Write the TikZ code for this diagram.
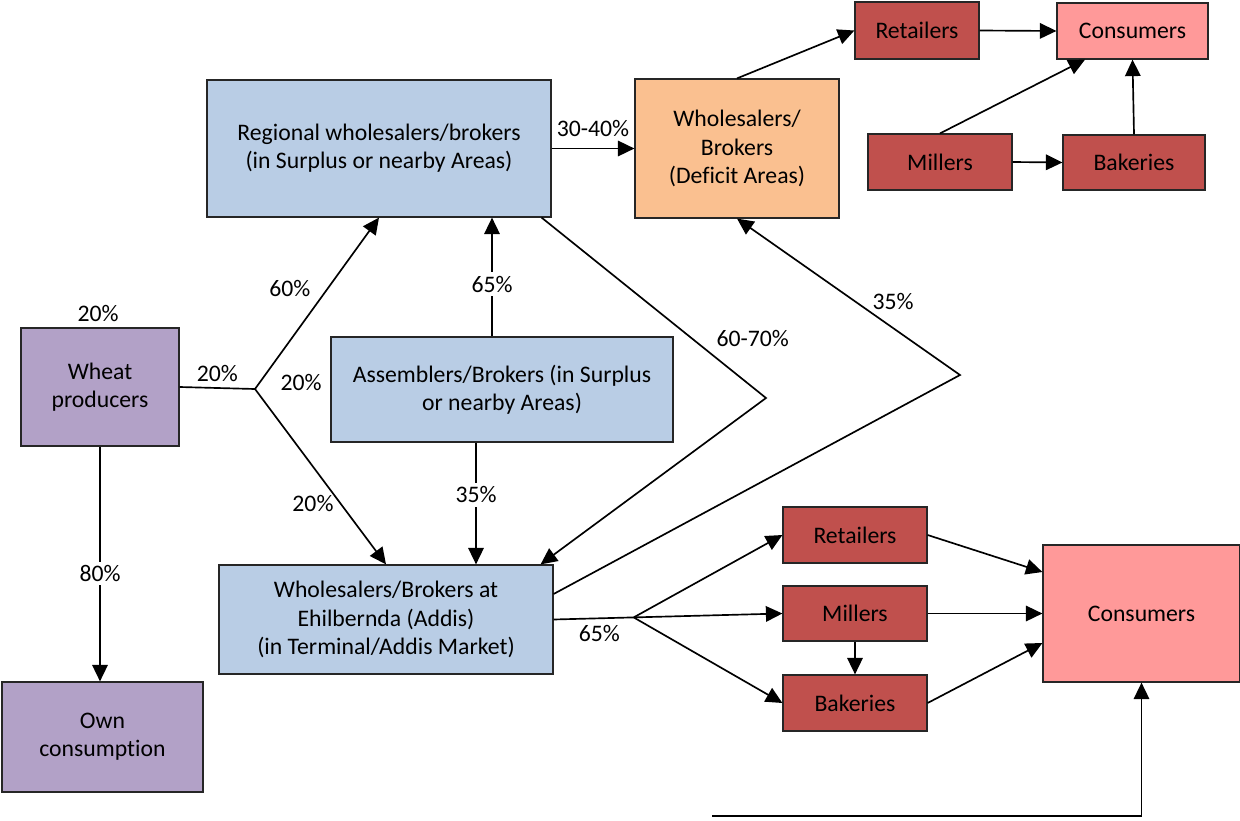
\documentclass[tikz,border=0pt]{standalone}
\usepackage{fontspec}
\setmainfont{Carlito}[Ligatures=NoCommon]
\usetikzlibrary{arrows.meta}
\definecolor{growerfill}{HTML}{B2A1C7}
\definecolor{traderfill}{HTML}{B9CDE5}
\definecolor{deficitfill}{HTML}{FAC090}
\definecolor{retailfill}{HTML}{C0504D}
\definecolor{consumerfill}{HTML}{FF9999}
\tikzset{
  box/.style = {draw=black!85, line width=0.7pt, align=center, inner sep=2pt},
  grower/.style = {box, fill=growerfill},
  trader/.style = {box, fill=traderfill},
  deficit/.style = {box, fill=deficitfill},
  retail/.style = {box, fill=retailfill},
  consumer/.style = {box, fill=consumerfill},
  share/.style = {fill=white, inner sep=2pt}
}
\tikzset{>={Triangle[length=3.3mm,width=3.1mm]}}

\begin{document}
\begin{tikzpicture}[x=0.02cm,y=-0.02cm,line width=0.95pt,
    font=\fontsize{13.5}{16}\selectfont]
  \useasboundingbox (0,0) rectangle (1240,821);
  % producers
  \node[grower, minimum width=3.16cm, minimum height=2.36cm] (wheat) at (100,387) {Wheat\\producers};
  \node[grower, minimum width=4.02cm, minimum height=2.20cm] (own) at (102.5,737) {Own\\consumption};
  \node (topshare) at (98,314) {20\%};
  % traders
  \node[trader, minimum width=6.88cm, minimum height=2.74cm] (regional) at (379,148.5) {Regional wholesalers/brokers\\(in Surplus or nearby Areas)};
  \node[trader, minimum width=6.84cm, minimum height=2.10cm] (assem) at (502,389.5) {Assemblers/Brokers (in Surplus\\or nearby Areas)};
  \node[trader, minimum width=6.68cm, minimum height=2.18cm] (ehil) at (386,619.5) {Wholesalers/Brokers at\\Ehilbernda (Addis)\\(in Terminal/Addis Market)};
  \node[deficit, minimum width=4.08cm, minimum height=2.78cm] (deficit) at (737,148.5) {Wholesalers/\\Brokers\\(Deficit Areas)};
  % deficit area chain
  \node[retail, minimum width=2.48cm, minimum height=1.14cm] (ret1) at (917,30.5) {Retailers};
  \node[consumer, minimum width=3.02cm, minimum height=1.12cm] (cons1) at (1132.5,31) {Consumers};
  \node[retail, minimum width=2.88cm, minimum height=1.12cm] (mill1) at (940,162) {Millers};
  \node[retail, minimum width=2.84cm, minimum height=1.10cm] (bak1) at (1134,162.5) {Bakeries};
  % terminal market chain
  \node[retail, minimum width=2.88cm, minimum height=1.12cm] (ret2) at (855,535) {Retailers};
  \node[retail, minimum width=2.88cm, minimum height=1.10cm] (mill2) at (855,613.5) {Millers};
  \node[retail, minimum width=2.88cm, minimum height=1.12cm] (bak2) at (855,703) {Bakeries};
  \node[consumer, minimum width=3.94cm, minimum height=2.74cm] (cons2) at (1141.5,613.5) {Consumers};
  % turning points
  \coordinate (split) at (255,389);
  \coordinate (bend1) at (766,398);
  \coordinate (bend2) at (960,375);
  \coordinate (feed) at (712,816);
  % flows from producers
  \draw (wheat.east) -- node[above] (lsplit) {20\%} (split);
  \draw[->] (split) -- node[pos=0.5, above left] (lreg) {60\%} (regional.south);
  \draw[->] (split) -- node[pos=0.65, left] (lehil) {20\%} (ehil.north);
  \node (lassem) at (301,383) {20\%};
  \draw[->] (wheat.south) -- node[share, pos=0.54] (lown) {80\%} (wheat.south |- own.north);
  % flows from assemblers
  \draw[->] ([xshift=-0.2cm]assem.north) -- node[share, pos=0.44] (lup) {65\%} ([xshift=-0.2cm]assem.north |- regional.south);
  \draw[->] ([xshift=-0.52cm]assem.south) -- node[share, pos=0.43] (ldown) {35\%} ([xshift=-0.52cm]assem.south |- ehil.north);
  % flows from regional traders
  \draw[->] (regional.east) -- node[above=3pt] (ldef) {30-40\%} (deficit.west);
  \draw[->] ([xshift=-0.2cm]regional.south east) -- node[pos=0.75, above right] (lterm) {60-70\%} (bend1)
    -- ([xshift=-0.26cm]ehil.north east);
  % flows from terminal market
  \draw[->] ([yshift=0.51cm]ehil.east) -- (bend2)
    -- node[pos=0.3, above=0.24cm] (lback) {35\%} (deficit.south);
  \draw[->] (ehil.east) -- coordinate[pos=0.35] (fork) node[pos=0.2, below] (lfork) {65\%} (mill2.west);
  \draw[->] (fork) -- (ret2.west);
  \draw[->] (fork) -- (bak2.west);
  \draw[->] (ret2.east) -- ([yshift=0.83cm]cons2.west);
  \draw[->] (mill2.east) -- (cons2.west);
  \draw[->] (mill2.south) -- (bak2.north);
  \draw[->] (bak2.east) -- ([yshift=-0.59cm]cons2.west);
  \draw[->] (feed) -- (cons2.south |- feed) -- (cons2.south);
  % deficit area flows
  \draw[->] (deficit.north) -- (ret1.west);
  \draw[->] (ret1.east) -- (cons1.west);
  \draw[->] (mill1.north) -- ([xshift=-0.95cm]cons1.south);
  \draw[->] (mill1.east) -- (bak1.west);
  \draw[->] (bak1.north) -- (cons1.south);
\end{tikzpicture}
\end{document}
